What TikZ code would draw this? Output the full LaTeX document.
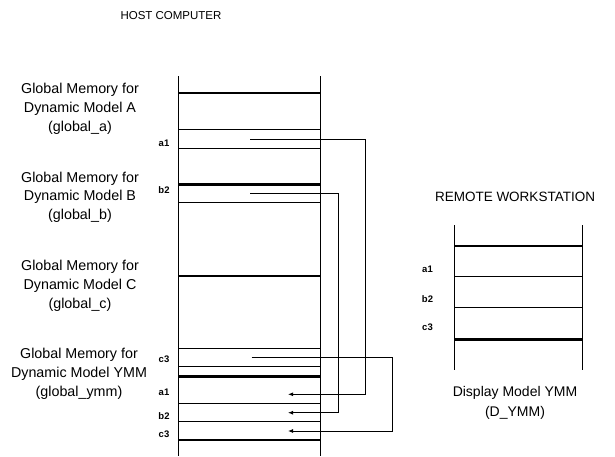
\documentclass[tikz,border=0pt]{standalone}
\usepackage{fontspec}
\setmainfont{Liberation Sans}
\usetikzlibrary{arrows.meta}
\begin{document}
\begin{tikzpicture}[x=1pt,y=-1pt,
  thinln/.style={line width=0.9pt},
  thickln/.style={line width=2.4pt},
  colln/.style={line width=0.9pt},
  linkarr/.style={line width=0.9pt,-{Latex[length=5pt,width=4pt]}},
  hosttitle/.style={font=\fontsize{11.5}{14}\selectfont,inner sep=0pt},
  remtitle/.style={font=\fontsize{13.5}{16}\selectfont,inner sep=0pt},
  memtext/.style={align=center,font=\fontsize{14.3}{18.7}\selectfont,inner sep=0pt},
  disptext/.style={align=center,font=\fontsize{14}{19.7}\selectfont,inner sep=0pt},
  tag/.style={font=\bfseries\fontsize{9.5}{11}\selectfont,inner sep=0pt}]
\useasboundingbox (0,0) rectangle (615,456);

% titles
\node[hosttitle] (host) at (171,16) {HOST COMPUTER};
\node[remtitle] (remote) at (515,197) {REMOTE WORKSTATION};

% memory descriptions
\node[memtext] (memA) at (80,108.7) {Global Memory for\\Dynamic Model A\\(global\_a)};
\node[memtext] (memB) at (80,197.2) {Global Memory for\\Dynamic Model B\\(global\_b)};
\node[memtext] (memC) at (80,285.7) {Global Memory for\\Dynamic Model C\\(global\_c)};
\node[memtext] (memY) at (79,373.7) {Global Memory for\\Dynamic Model YMM\\(global\_ymm)};
\node[disptext] (disp) at (515,403) {Display Model YMM\\(D\_YMM)};

% host column
\coordinate (hTL) at (178.5,76);
\coordinate (hBL) at (178.5,456);
\coordinate (hTR) at (320.5,76);
\coordinate (hBR) at (320.5,456);
\draw[colln] (hTL) -- (hBL);
\draw[colln] (hTR) -- (hBR);
\foreach \yy in {92.7,184.3,276,376.5,440}
  \draw[thickln] (178.5,\yy) -- (320.5,\yy);
\foreach \yy in {129.5,148.3,202.3,348.5,366.7,403.3,421.7}
  \draw[thinln] (178.5,\yy) -- (320.5,\yy);

% host labels
\node[tag] (ha1) at (164,143) {a1};
\node[tag] (hb2) at (164,190) {b2};
\node[tag] (hc3) at (164,359) {c3};
\node[tag] (hya1) at (164,392) {a1};
\node[tag] (hyb2) at (164,416) {b2};
\node[tag] (hyc3) at (164,434) {c3};

% remote column
\coordinate (rTL) at (454,225);
\coordinate (rBL) at (454,370);
\coordinate (rTR) at (582,225);
\coordinate (rBR) at (582,370);
\draw[colln] (rTL) -- (rBL);
\draw[colln] (rTR) -- (rBR);
\foreach \yy in {245.7,339.3}
  \draw[thickln] (454,\yy) -- (582,\yy);
\foreach \yy in {276.7,307.7}
  \draw[thinln] (454,\yy) -- (582,\yy);
\node[tag] (ra1) at (427.5,269) {a1};
\node[tag] (rb2) at (427.5,299) {b2};
\node[tag] (rc3) at (427.5,327) {c3};

% connectors
\coordinate (a1s) at (250,139);
\coordinate (a1r) at (365.5,139);
\coordinate (a1q) at (365.5,394.3);
\coordinate (a1d) at (288,394.3);
\coordinate (b2s) at (250,193.7);
\coordinate (b2r) at (338.3,193.7);
\coordinate (b2q) at (338.3,412.7);
\coordinate (b2d) at (288,412.7);
\coordinate (c3s) at (251.7,357.7);
\coordinate (c3r) at (392.7,357.7);
\coordinate (c3q) at (392.7,431);
\coordinate (c3d) at (288,431);
\draw[linkarr] (a1s) -- (a1r) -- (a1q) -- (a1d);
\draw[linkarr] (b2s) -- (b2r) -- (b2q) -- (b2d);
\draw[linkarr] (c3s) -- (c3r) -- (c3q) -- (c3d);
\end{tikzpicture}
\end{document}
